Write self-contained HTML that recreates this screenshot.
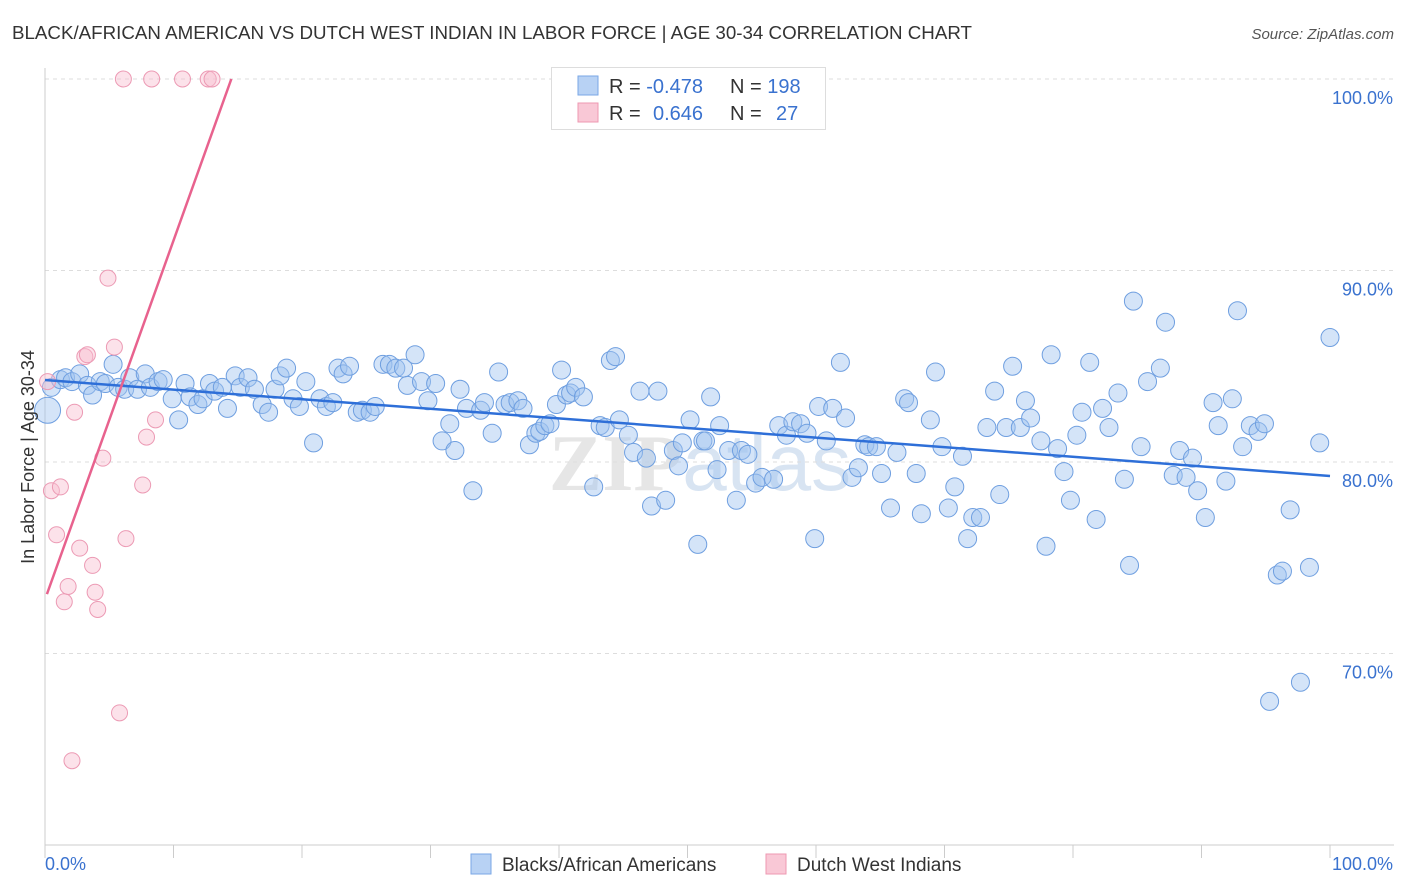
<!DOCTYPE html>
<html><head><meta charset="utf-8"><style>
body{margin:0;background:#fff;font-family:"Liberation Sans",sans-serif;}
#wrap{position:relative;width:1406px;height:892px;overflow:hidden;}
</style></head><body>
<div id="wrap">
<svg id="svg" width="1406" height="892" xmlns="http://www.w3.org/2000/svg">
<text x="12" y="39" font-size="18.5" fill="#333" textLength="960" lengthAdjust="spacingAndGlyphs">BLACK/AFRICAN AMERICAN VS DUTCH WEST INDIAN IN LABOR FORCE | AGE 30-34 CORRELATION CHART</text>
<text x="1394" y="39" font-size="15" fill="#555" font-style="italic" text-anchor="end">Source: ZipAtlas.com</text>
<text x="700" y="490" font-size="80" fill="#e6e6e6" text-anchor="middle" font-family="Liberation Serif,serif" font-weight="bold">ZIP<tspan fill="#d8e4f2" font-family="Liberation Sans,sans-serif" font-weight="normal">atlas</tspan></text>
<g id="grid"></g><g id="axes"></g><g id="pts"></g><g id="trend"></g>
<text transform="translate(34,457) rotate(-90)" font-size="18" fill="#333" text-anchor="middle">In Labor Force | Age 30-34</text>
<g>
<rect x="551.5" y="67.5" width="274" height="62" fill="#fff" stroke="#ddd"/>
<rect x="578" y="76" width="20" height="19" fill="#b8d2f4" stroke="#7aa7e6"/>
<rect x="578" y="103" width="20" height="19" fill="#f9c8d6" stroke="#ee98b2"/>
<text x="609" y="93" font-size="20" fill="#333">R = <tspan fill="#3a72cf">-0.478</tspan><tspan x="730">N = </tspan><tspan fill="#3a72cf">198</tspan></text>
<text x="609" y="120" font-size="20" fill="#333">R = <tspan x="653" fill="#3a72cf">0.646</tspan><tspan x="730">N = </tspan><tspan x="776" fill="#3a72cf">27</tspan></text>
</g>
<g>
<rect x="471" y="854" width="20" height="20" fill="#b8d2f4" stroke="#7aa7e6"/>
<text x="502" y="871" font-size="19" fill="#333">Blacks/African Americans</text>
<rect x="766" y="854" width="20" height="20" fill="#f9c8d6" stroke="#ee98b2"/>
<text x="797" y="871" font-size="19" fill="#333">Dutch West Indians</text>
</g>
</svg>
</div>
<script>
const yTicks=[100,90,80,70];
const yTickLabels=["100.0%","90.0%","80.0%","70.0%"];
const xTickLabels=["0.0%","100.0%"];
const blueX=[0.2,0.5,1.2,1.6,2.1,2.7,3.3,3.7,4.3,4.7,5.3,5.7,6.2,6.6,7.2,7.8,8.2,8.8,9.2,9.9,10.4,10.9,11.3,11.9,12.3,12.8,13.2,13.8,14.2,14.8,15.2,15.8,16.3,16.9,17.4,17.9,18.3,18.8,19.3,19.8,20.3,20.9,21.4,21.9,22.4,22.8,23.2,23.7,24.3,24.7,25.3,25.7,26.3,26.8,27.3,27.9,28.2,28.8,29.3,29.8,30.4,30.9,31.5,31.9,32.3,32.8,33.3,33.9,34.2,34.8,35.3,35.8,36.2,36.8,37.2,37.7,38.2,38.5,38.9,39.3,39.8,40.2,40.6,40.9,41.3,41.9,42.7,43.2,43.6,44.0,44.4,44.7,45.4,45.8,46.3,46.8,47.2,47.7,48.3,48.9,49.3,49.6,50.2,50.8,51.2,51.4,51.8,52.3,52.5,53.2,53.8,54.2,54.7,55.3,55.8,56.7,57.1,57.7,58.2,58.8,59.3,59.9,60.2,60.8,61.3,61.9,62.3,62.8,63.3,63.8,64.1,64.7,65.1,65.8,66.3,66.9,67.2,67.8,68.2,68.9,69.3,69.8,70.3,70.8,71.4,71.8,72.2,72.8,73.3,73.9,74.3,74.8,75.3,75.9,76.3,76.7,77.5,77.9,78.3,78.8,79.3,79.8,80.3,80.7,81.3,81.8,82.3,82.8,83.5,84.0,84.4,84.7,85.3,85.8,86.8,87.2,87.8,88.3,88.8,89.3,89.7,90.3,90.9,91.3,91.9,92.4,92.8,93.2,93.8,94.4,94.9,95.3,95.9,96.3,96.9,97.7,98.4,99.2,100.0];
const blueY=[82.7,83.9,84.3,84.4,84.2,84.6,84.0,83.5,84.2,84.1,85.1,83.9,83.8,84.4,83.8,84.6,83.9,84.2,84.3,83.3,82.2,84.1,83.4,83.0,83.3,84.1,83.7,83.9,82.8,84.5,83.9,84.4,83.8,83.0,82.6,83.8,84.5,84.9,83.3,82.9,84.2,81.0,83.3,82.9,83.1,84.9,84.6,85.0,82.6,82.7,82.6,82.9,85.1,85.1,84.9,84.9,84.0,85.6,84.2,83.2,84.1,81.1,82.0,80.6,83.8,82.8,78.5,82.7,83.1,81.5,84.7,83.0,83.1,83.2,82.8,80.9,81.5,81.6,81.9,82.0,83.0,84.8,83.5,83.6,83.9,83.4,78.7,81.9,81.8,85.3,85.5,82.2,81.4,80.5,83.7,80.2,77.7,83.7,78.0,80.6,79.8,81.0,82.2,75.7,81.1,81.1,83.4,79.6,81.9,80.6,78.0,80.6,80.4,78.9,79.2,79.1,81.9,81.4,82.1,82.0,81.5,76.0,82.9,81.1,82.8,85.2,82.3,79.2,79.7,80.9,80.8,80.8,79.4,77.6,80.5,83.3,83.1,79.4,77.3,82.2,84.7,80.8,77.6,78.7,80.3,76.0,77.1,77.1,81.8,83.7,78.3,81.8,85.0,81.8,83.2,82.3,81.1,75.6,85.6,80.7,79.5,78.0,81.4,82.6,85.2,77.0,82.8,81.8,83.6,79.1,74.6,88.4,80.8,84.2,84.9,87.3,79.3,80.6,79.2,80.2,78.5,77.1,83.1,81.9,79.0,83.3,87.9,80.8,81.9,81.6,82.0,67.5,74.1,74.3,77.5,68.5,74.5,81.0,86.5];
const pinkX=[0.2,0.5,0.9,1.2,1.5,1.8,2.3,2.7,3.1,3.3,3.7,3.9,4.1,4.5,4.9,5.4,5.8,6.3,7.6,7.9,8.6,6.1,8.3,10.7,12.7,13.0,2.1];
const pinkY=[84.2,78.5,76.2,78.7,72.7,73.5,82.6,75.5,85.5,85.6,74.6,73.2,72.3,80.2,89.6,86.0,66.9,76.0,78.8,81.3,82.2,100,100,100,100,100,64.4];
const blueTrend=[[0,84.28],[100,79.27]];
const pinkTrend=[[0.15,73.1],[14.5,100]];

const X0=45,X1=1330,Y100=79,PX=19.15;
const sx=v=>X0+(X1-X0)*v/100;
const sy=v=>Y100+(100-v)*PX;
const NS="http://www.w3.org/2000/svg";
function mk(tag,attrs,parent){const e=document.createElementNS(NS,tag);for(const k in attrs)e.setAttribute(k,attrs[k]);parent.appendChild(e);return e;}
const grid=document.getElementById('grid'),axes=document.getElementById('axes'),pts=document.getElementById('pts'),trend=document.getElementById('trend');
yTicks.forEach((t,i)=>{
  const l=mk('line',{x1:45,x2:1394,y1:sy(t),y2:sy(t),stroke:'#ddd','stroke-dasharray':'4,4'},grid);
  
  
  const tx=mk('text',{x:1393,y:sy(t)+25,'font-size':18,fill:'#3a72cf','text-anchor':'end'},grid);
  tx.textContent=yTickLabels[i];
  
  
});
const ax=mk('line',{x1:45,x2:1394,y1:845,y2:845,stroke:'#ccc'},axes);


const ay=mk('line',{x1:45,x2:45,y1:68,y2:845,stroke:'#ccc'},axes);


for(let i=0;i<=10;i++){
  const t=mk('line',{x1:sx(i*10),x2:sx(i*10),y1:845,y2:858,stroke:'#ccc'},axes);
  
  
}
const xl0=mk('text',{x:45,y:870,'font-size':18,fill:'#3a72cf'},axes);xl0.textContent=xTickLabels[0];


const xl1=mk('text',{x:1393,y:870,'font-size':18,fill:'#3a72cf','text-anchor':'end'},axes);xl1.textContent=xTickLabels[1];


blueX.forEach((v,i)=>{
  const c=mk('circle',{cx:sx(v),cy:sy(blueY[i]),r:(i===0?13:9),fill:'rgba(160,195,240,0.45)',stroke:'#6f9fe0','stroke-width':1},pts);
  
  
});
pinkX.forEach((v,i)=>{
  const c=mk('circle',{cx:sx(v),cy:sy(pinkY[i]),r:8,fill:'rgba(248,190,208,0.45)',stroke:'#ec9ab4','stroke-width':1},pts);
  
  
});
const bl=mk('line',{x1:sx(blueTrend[0][0]),y1:sy(blueTrend[0][1]),x2:sx(blueTrend[1][0]),y2:sy(blueTrend[1][1]),stroke:'#2e6fd8','stroke-width':2.5},trend);


const pl=mk('line',{x1:sx(pinkTrend[0][0]),y1:sy(pinkTrend[0][1]),x2:sx(pinkTrend[1][0]),y2:sy(pinkTrend[1][1]),stroke:'#e8628e','stroke-width':2.5},trend);


</script>
</body></html>
